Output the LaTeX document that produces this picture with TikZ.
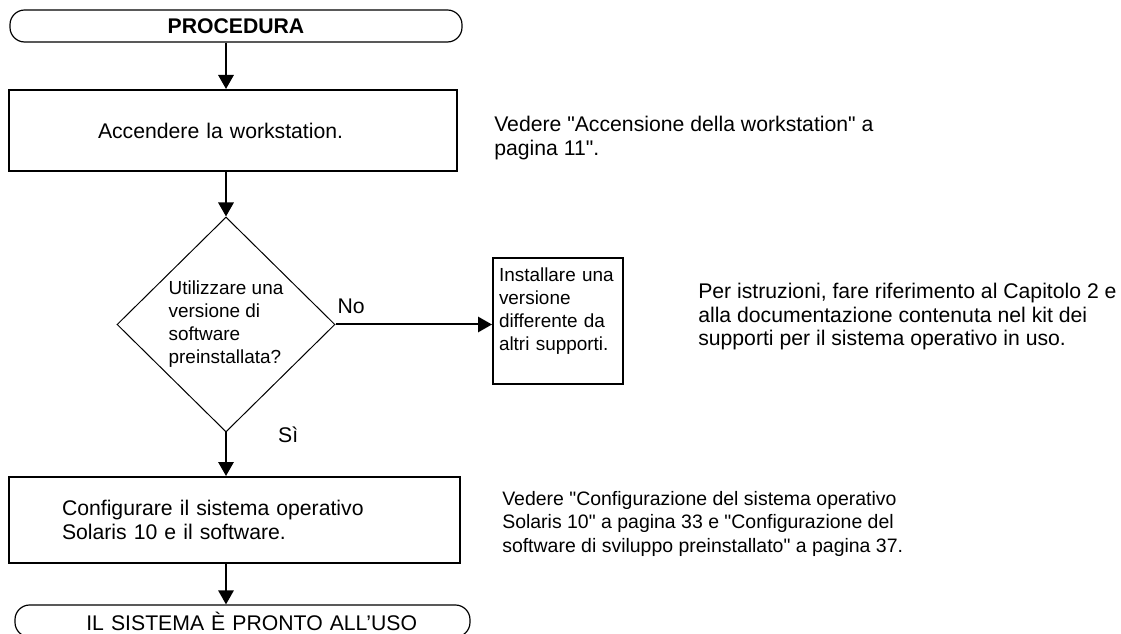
\documentclass[tikz,border=0pt]{standalone}
\usepackage{fontspec}
\setmainfont{Liberation Sans}[Ligatures=TeXOff]
\usepackage{tikz}
\usetikzlibrary{shapes.geometric, arrows.meta}

\begin{document}
\begin{tikzpicture}[
    x=0.75pt, y=-0.75pt,
    font=\fontsize{15.9pt}{17.6pt}\selectfont,
    small/.style={font=\fontsize{14.2pt}{17.2pt}\selectfont},
    terminal/.style={rectangle, draw, rounded corners=11pt, line width=0.9pt, minimum height=24pt},
    process/.style={rectangle, draw, line width=1.5pt, align=left},
    decision/.style={diamond, draw, line width=0.75pt, aspect=1, inner sep=0pt, align=left, small, minimum width=163.5pt, minimum height=161.25pt},
    note/.style={anchor=north west, inner sep=0pt, align=left},
    arrow/.style={-{Triangle[length=10.5pt, width=11.5pt]}, line width=1.5pt}
]
    \useasboundingbox (0,0) rectangle (1121,634);

    % Nodes
    \node[terminal, minimum width=339pt] (start) at (236,26) {\textbf{PROCEDURA}};
    \node[process, minimum width=336pt, minimum height=60.75pt, text width=202.5pt] (accend) at (233,130.5) {Accendere la workstation.};
    \node[decision] (query) at (226,324.5) {Utilizzare una\\ versione di\\ software\\ preinstallata?};
    \node[process, small, minimum width=97.5pt, minimum height=94.5pt, text width=88.5pt, inner xsep=4.5pt] (inst) at (558,321) {Installare una\\ versione\\ differente da\\ altri supporti.\\ \mbox{}};
    \node[process, minimum width=338.25pt, minimum height=64.5pt, text width=258.75pt] (config) at (234.5,520) {Configurare il sistema operativo\\ Solaris 10 e il software.};
    \node[terminal, minimum width=341.25pt, text width=261.75pt, align=right] (finish) at (242.5,621) {IL SISTEMA È PRONTO ALL’USO};

    % Notes
    \node[note] (noteaccend) at (494,116) {Vedere "Accensione della workstation" a\\ pagina 11".};
    \node[note] (noteinst) at (698,283) {Per istruzioni, fare riferimento al Capitolo 2 e\\ alla documentazione contenuta nel kit dei\\ supporti per il sistema operativo in uso.};
    \node[note, font=\fontsize{14.6pt}{17.6pt}\selectfont] (noteconfig) at (502,491) {Vedere "Configurazione del sistema operativo\\ Solaris 10" a pagina 33 e "Configurazione del\\ software di sviluppo preinstallato" a pagina 37.};

    % Arrows
    \draw[arrow] (start.south -| query) -- (accend.north -| query);
    \draw[arrow] (accend.south -| query) -- (query.north);
    \draw[arrow] (query.east) -- node[pos=0.1, above, yshift=4pt] {No} (query.east -| inst.west);
    \draw[arrow] (query.south) -- node[pos=0.05, right, xshift=35pt] {Sì} (config.north -| query);
    \draw[arrow] (config.south -| query) -- (finish.north -| query);

\end{tikzpicture}
\end{document}
